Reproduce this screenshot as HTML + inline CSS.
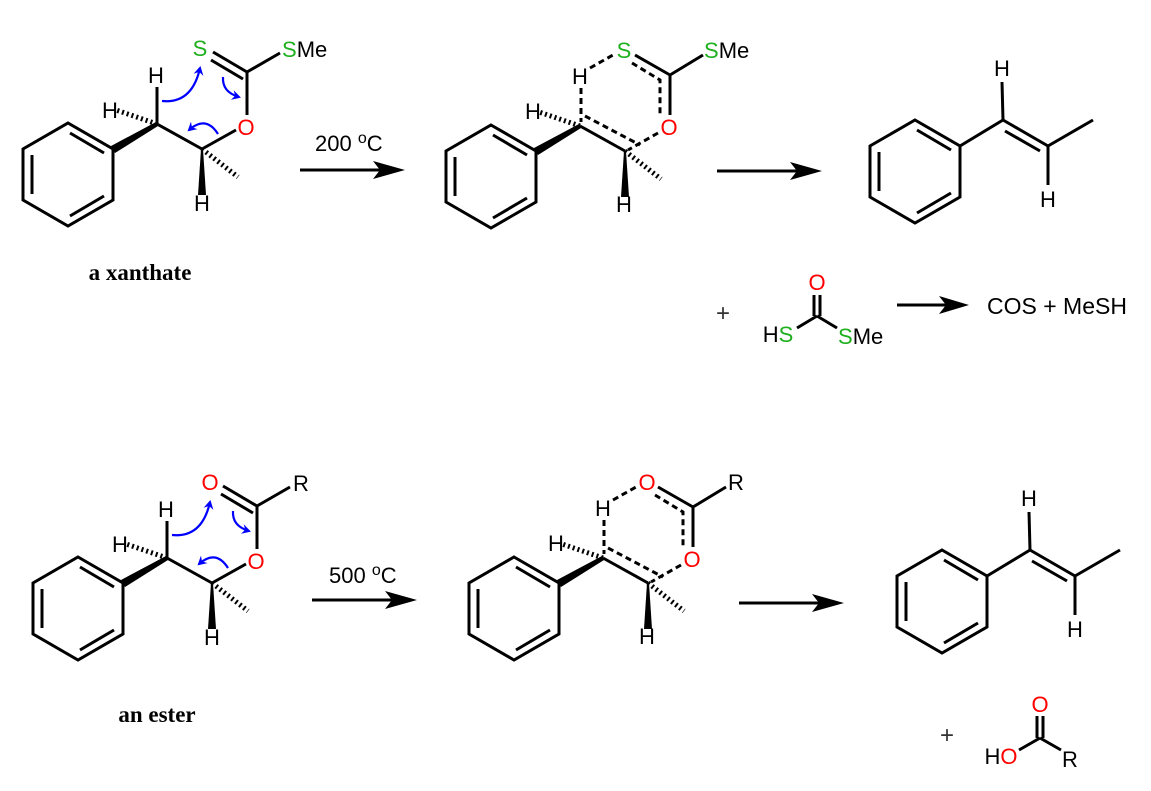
<!DOCTYPE html>
<html><head><meta charset="utf-8"><style>
html,body{margin:0;padding:0;background:#fff;}
svg{display:block;}
text{font-family:"Liberation Sans",Arial,sans-serif;font-size:22px;fill:#000;}
.g{fill:#1fb01f;} .r{fill:#ff0000;}
.lb{font-family:"Liberation Serif",serif;font-weight:bold;font-size:23px;}
.pl{font-size:24px;fill:#333;}
</style></head><body>
<svg width="1151" height="791" viewBox="0 0 1151 791" xmlns="http://www.w3.org/2000/svg">
<defs>
<marker id="bh" markerWidth="10" markerHeight="10" refX="7" refY="5" orient="auto" markerUnits="userSpaceOnUse">
<path d="M0,0 L9,5 L0,10 L3,5 Z" fill="#0000ff"/></marker>
<g id="benz" stroke="#000" stroke-width="3" fill="none" stroke-linejoin="miter">
<polygon points="68,123 113,149 113,200 68,226 23,200 23,149"/>
<line x1="70" y1="133" x2="104" y2="153"/>
<line x1="32" y1="155" x2="32" y2="194"/>
<line x1="104" y1="196" x2="70" y2="216"/>
</g>
<g id="core">
<use href="#benz"/>
<polygon points="111,146 115,153 158,126 156,122" fill="#000"/>
<line x1="157" y1="124" x2="116" y2="110" stroke="#000" stroke-width="5" stroke-dasharray="2 3"/>
<line x1="157" y1="124" x2="202" y2="149" stroke="#000" stroke-width="3"/>
<polygon points="201,149 203,149 206,195 198,195" fill="#000"/>
<line x1="202" y1="149" x2="238" y2="177" stroke="#000" stroke-width="5" stroke-dasharray="2 3"/>
</g>
<g id="react">
<use href="#core"/>
<g stroke="#000" stroke-width="3" fill="none">
<line x1="157" y1="124" x2="157" y2="87"/>
<line x1="202" y1="149" x2="236" y2="130"/>
<line x1="247" y1="115" x2="247" y2="72"/>
<line x1="247" y1="72" x2="213" y2="52"/>
<line x1="243" y1="79" x2="211" y2="60"/>
<line x1="247" y1="72" x2="280" y2="53"/>
</g>
<g stroke="#0000ff" stroke-width="2.2" fill="none">
<path d="M162,101 Q192,104 200,68" marker-end="url(#bh)"/>
<path d="M223,77 Q222,92 239,97" marker-end="url(#bh)"/>
<path d="M218,134 Q206,115 189,130" marker-end="url(#bh)"/>
</g>
</g>
<g id="ts">
<use href="#core"/>
<g stroke="#000" stroke-width="3" fill="none">
<line x1="158" y1="86" x2="158" y2="120" stroke-dasharray="6 4"/>
<line x1="167" y1="66" x2="190" y2="53" stroke-dasharray="6 4"/>
<line x1="212" y1="53" x2="247" y2="73"/>
<polyline points="209,61 237,78 237,112" stroke-dasharray="6 4"/>
<line x1="247" y1="73" x2="247" y2="113"/>
<line x1="247" y1="73" x2="280" y2="53"/>
<line x1="235" y1="131" x2="205" y2="148" stroke-dasharray="6 4"/>
<line x1="162" y1="114" x2="217" y2="143" stroke-dasharray="6 4"/>
</g>
</g>
<g id="prod">
<use href="#benz" transform="translate(847,-3)"/>
<g stroke="#000" stroke-width="3" fill="none">
<line x1="960" y1="146" x2="1003" y2="120"/>
<line x1="1003" y1="120" x2="1048" y2="146"/>
<line x1="1005" y1="131" x2="1040" y2="151"/>
<line x1="1048" y1="146" x2="1093" y2="120"/>
<line x1="1003" y1="120" x2="1002" y2="82"/>
<line x1="1048" y1="146" x2="1048" y2="185"/>
</g>
</g>
<g id="arr">
<line x1="0" y1="0" x2="80" y2="0" stroke="#000" stroke-width="3"/>
<path d="M105,0 L73,-9 L80,0 L73,9 Z" fill="#000"/>
</g>
<g id="arrs">
<line x1="0" y1="0" x2="50" y2="0" stroke="#000" stroke-width="3"/>
<path d="M72,0 L42,-9 L49,0 L42,9 Z" fill="#000"/>
</g>
</defs>

<!-- top row -->
<use href="#react"/>
<text class="g" x="200" y="56" text-anchor="middle">S</text>
<text x="282" y="57"><tspan class="g">S</tspan>Me</text>
<text class="r" x="246" y="135" text-anchor="middle">O</text>
<text x="156" y="83" text-anchor="middle">H</text>
<text x="110" y="118" text-anchor="middle">H</text>
<text x="202" y="211" text-anchor="middle">H</text>
<text class="lb" x="140" y="280" text-anchor="middle">a xanthate</text>
<use href="#arr" transform="translate(300,170)"/>
<text x="315" y="151">200 <tspan font-size="16" dy="-8">o</tspan><tspan dy="8">C</tspan></text>

<use href="#ts" transform="translate(423,2)"/>
<text class="g" x="624" y="58" text-anchor="middle">S</text>
<text x="704" y="58"><tspan class="g">S</tspan>Me</text>
<text class="r" x="669" y="135" text-anchor="middle">O</text>
<text x="580" y="84" text-anchor="middle">H</text>
<text x="533" y="119" text-anchor="middle">H</text>
<text x="624" y="212" text-anchor="middle">H</text>
<use href="#arr" transform="translate(717,171)"/>

<use href="#prod"/>
<text x="1002" y="76" text-anchor="middle">H</text>
<text x="1048" y="207" text-anchor="middle">H</text>

<text class="pl" x="723" y="321" text-anchor="middle">+</text>
<g stroke="#000" stroke-width="3" fill="none">
<line x1="814" y1="295" x2="814" y2="316"/>
<line x1="820" y1="295" x2="820" y2="316"/>
<line x1="817" y1="316" x2="797" y2="328"/>
<line x1="817" y1="316" x2="837" y2="328"/>
</g>
<text class="r" x="817" y="290" text-anchor="middle">O</text>
<text x="778" y="342" text-anchor="middle">H<tspan class="g">S</tspan></text>
<text x="838" y="344"><tspan class="g">S</tspan>Me</text>
<use href="#arrs" transform="translate(897,305)"/>
<text x="987" y="314" style="font-size:23px">COS + MeSH</text>

<!-- bottom row -->
<g transform="translate(10,434)">
<use href="#react"/>
<text class="r" x="200" y="56" text-anchor="middle">O</text>
<text x="283" y="57">R</text>
<text class="r" x="246" y="135" text-anchor="middle">O</text>
<text x="156" y="83" text-anchor="middle">H</text>
<text x="110" y="118" text-anchor="middle">H</text>
<text x="202" y="211" text-anchor="middle">H</text>
</g>
<text class="lb" x="157" y="722" text-anchor="middle">an ester</text>
<use href="#arr" transform="translate(312,600)"/>
<text x="329" y="583">500 <tspan font-size="16" dy="-8">o</tspan><tspan dy="8">C</tspan></text>

<g transform="translate(23,432)">
<use href="#ts" transform="translate(423,2)"/>
<text class="r" x="624" y="58" text-anchor="middle">O</text>
<text x="705" y="58">R</text>
<text class="r" x="669" y="135" text-anchor="middle">O</text>
<text x="580" y="84" text-anchor="middle">H</text>
<text x="533" y="119" text-anchor="middle">H</text>
<text x="624" y="212" text-anchor="middle">H</text>
</g>
<use href="#arr" transform="translate(739,603)"/>

<g transform="translate(27,430)">
<use href="#prod"/>
<text x="1002" y="76" text-anchor="middle">H</text>
<text x="1048" y="207" text-anchor="middle">H</text>
</g>

<text class="pl" x="947" y="743" text-anchor="middle">+</text>
<g stroke="#000" stroke-width="3" fill="none">
<line x1="1037" y1="716" x2="1037" y2="738"/>
<line x1="1043" y1="716" x2="1043" y2="738"/>
<line x1="1040" y1="738" x2="1019" y2="750"/>
<line x1="1040" y1="738" x2="1061" y2="750"/>
</g>
<text class="r" x="1040" y="712" text-anchor="middle">O</text>
<text x="1001" y="764" text-anchor="middle">H<tspan class="r">O</tspan></text>
<text x="1070" y="767" text-anchor="middle">R</text>
</svg>
</body></html>
